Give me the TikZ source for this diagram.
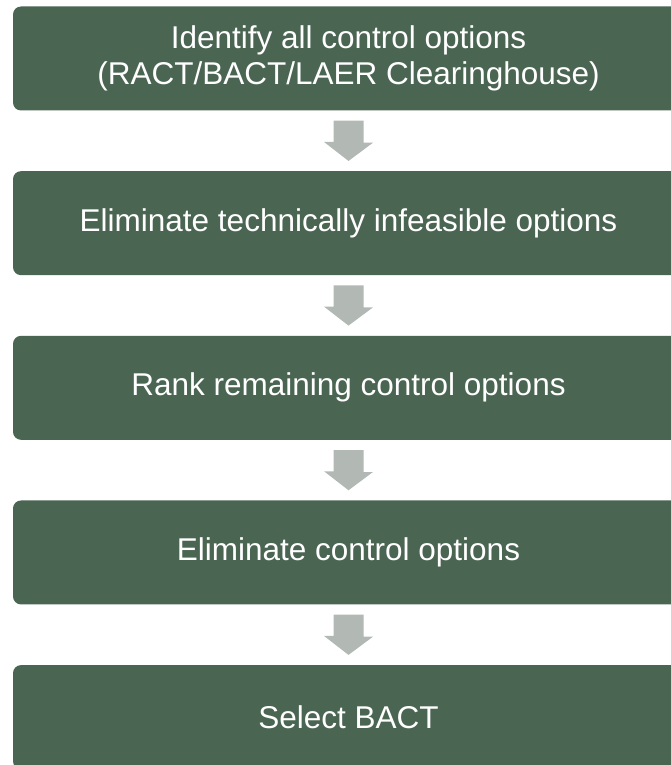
\documentclass[tikz,border=0pt]{standalone}
\usepackage{fontspec}
\setmainfont{Liberation Sans}
\usetikzlibrary{positioning,calc}
\definecolor{boxgreen}{RGB}{74,101,82}
\definecolor{arrowgray}{RGB}{178,184,179}
\tikzset{
  stepbox/.style={fill=boxgreen,text=white,rounded corners=8pt,minimum width=671pt,minimum height=104pt,inner sep=0pt,align=center,font=\fontsize{31.5}{36}\selectfont},
  blockarrow/.style={fill=arrowgray},
}
\begin{document}
\begin{tikzpicture}[node distance=60.25pt]
\useasboundingbox (0,0) rectangle (670pt,-765pt);

\node[stepbox] (s1) at (348.5pt,-58.5pt) {Identify all control options\\(RACT/BACT/LAER Clearinghouse)};
\node[stepbox,below=of s1] (s2) {Eliminate technically infeasible options};
\node[stepbox,below=of s2] (s3) {Rank remaining control options};
\node[stepbox,below=of s3] (s4) {Eliminate control options};
\node[stepbox,below=of s4] (s5) {Select BACT};

% block arrows between the steps
\foreach \a/\b in {s1/s2,s2/s3,s3/s4,s4/s5}
  \fill[blockarrow] ($(\a.south)+(-15pt,-10pt)$) -- ++(30pt,0) -- ++(0,-22pt) -- ++(9.5pt,0)
    -- ($(\b.north)+(0,10pt)$) -- ++(-24.5pt,19pt) -- ++(9.5pt,0) -- cycle;

\end{tikzpicture}
\end{document}
